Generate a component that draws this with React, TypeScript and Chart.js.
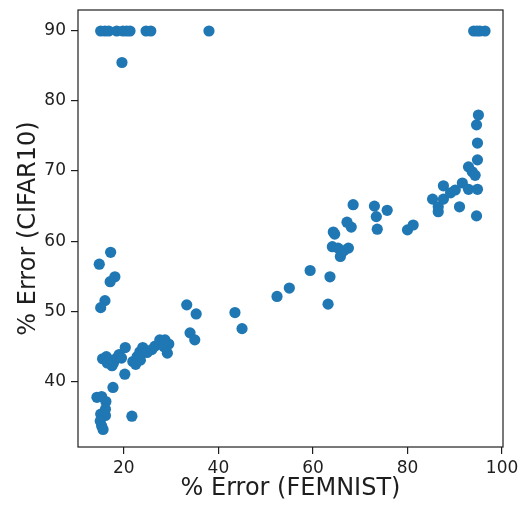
import React, { useEffect, useRef } from "react";
import { Chart, registerables } from "chart.js";

Chart.register(...registerables);

// Error rate of each configuration on FEMNIST (x) and CIFAR10 (y), in percent
const femnistError = [
  15.1, 16.0, 16.8, 18.5, 19.8, 20.6, 21.3, 24.7, 25.7, 38.0, 94.0, 94.7, 95.3, 96.4,
  19.6, 17.2, 14.8, 18.1, 17.1, 16.0, 15.1,
  15.5, 16.3, 17.0, 17.8, 18.5, 19.0, 20.3, 17.5, 16.5, 19.5, 20.2, 17.7,
  14.3, 15.3, 16.2, 16.1, 15.1, 16.1, 15.0, 15.3, 15.6, 21.7,
  21.9, 22.8, 23.4, 24.0, 24.9, 25.9, 26.6, 27.6, 28.7, 29.5, 28.5, 29.2, 22.5, 23.5,
  33.3, 35.3, 34.0, 35.0, 43.5, 45.0,
  52.4, 55.0, 59.4, 63.6, 63.2,
  64.1, 65.3, 67.5, 65.8, 64.3, 64.6, 67.2, 68.1, 68.5, 73.0, 75.7, 73.4, 73.6, 66.5,
  80.0, 81.2,
  85.3, 86.5, 86.5, 87.6, 87.6, 89.1, 90.1, 91.0, 91.6, 92.9, 92.9, 93.7, 94.3, 94.8,
  94.6, 94.8, 94.8, 94.6, 95.0,
];

const cifar10Error = [
  90, 90, 90, 90, 90, 90, 90, 90, 90, 90, 90, 90, 90, 90,
  85.5, 58.4, 56.7, 54.9, 54.2, 51.5, 50.5,
  43.2, 43.5, 43.0, 42.6, 43.3, 43.8, 44.8, 42.2, 42.6, 43.3, 41.0, 39.1,
  37.7, 37.8, 37.1, 36.0, 35.3, 35.1, 34.3, 33.6, 33.1, 35.0,
  42.8, 43.5, 44.2, 44.8, 44.1, 44.5, 45.0, 45.9, 45.9, 45.3, 44.9, 44.0, 42.4, 43.0,
  50.9, 49.6, 46.9, 45.9, 49.8, 47.5,
  52.1, 53.3, 55.8, 54.9, 51.0,
  59.2, 59.0, 59.0, 57.8, 61.3, 61.0, 62.7, 62.0, 65.2, 65.0, 64.4, 63.5, 61.7, 58.6,
  61.6, 62.3,
  66.0, 64.9, 64.2, 66.0, 67.9, 66.9, 67.3, 64.9, 68.3, 70.6, 67.4, 69.9, 69.4, 67.4,
  63.6, 71.6, 74.0, 76.6, 78.0,
];

const xTicks = [20, 40, 60, 80, 100];
const yTicks = [40, 50, 60, 70, 80, 90];

const xLimits = [10.3, 100.2];
const yLimits = [30.6, 93.0];

const FONT = "'DejaVu Sans', sans-serif";
const INK = "#1e1e1e";

// Closed frame around the plotting area
const framePlugin = {
  id: "frame",
  afterDatasetsDraw(chart: any) {
    const { ctx, chartArea } = chart;
    ctx.save();
    ctx.strokeStyle = INK;
    ctx.lineWidth = 1.2;
    ctx.strokeRect(
      chartArea.left,
      chartArea.top,
      chartArea.right - chartArea.left,
      chartArea.bottom - chartArea.top
    );
    ctx.restore();
  },
};

export default function App() {
  const canvasRef = useRef<HTMLCanvasElement | null>(null);

  useEffect(() => {
    const canvas = canvasRef.current;
    if (!canvas) return;
    const points = femnistError.map((x, i) => ({ x, y: cifar10Error[i] }));

    const chart = new Chart(canvas, {
      type: "scatter",
      data: {
        datasets: [
          {
            data: points,
            backgroundColor: "#1f77b4",
            borderWidth: 0,
            pointRadius: 5.6,
            pointHoverRadius: 5.6,
          },
        ],
      },
      options: {
        responsive: false,
        animation: false,
        events: [],
        layout: { padding: { top: 10, right: 17, left: 0, bottom: 0 } },
        plugins: {
          legend: { display: false },
          tooltip: { enabled: false },
        },
        scales: {
          x: {
            type: "linear",
            min: xLimits[0],
            max: xLimits[1],
            afterBuildTicks: (scale: any) => {
              scale.ticks = xTicks.map((v) => ({ value: v }));
            },
            afterFit: (scale: any) => {
              scale.height = 60;
              scale.paddingLeft = 0;
              scale.paddingRight = 0;
            },
            grid: {
              drawOnChartArea: false,
              drawTicks: true,
              tickLength: 7,
              color: INK,
              lineWidth: 1.2,
            },
            border: { display: false },
            ticks: {
              color: INK,
              padding: 4,
              maxRotation: 0,
              font: { family: FONT, size: 17 },
            },
            title: {
              display: true,
              text: "% Error (FEMNIST)",
              color: INK,
              font: { family: FONT, size: 24 },
              padding: { top: 0, bottom: 4 },
            },
          },
          y: {
            type: "linear",
            min: yLimits[0],
            max: yLimits[1],
            afterBuildTicks: (scale: any) => {
              scale.ticks = yTicks.map((v) => ({ value: v }));
            },
            afterFit: (scale: any) => {
              scale.width = 78;
              scale.paddingTop = 0;
              scale.paddingBottom = 0;
            },
            grid: {
              drawOnChartArea: false,
              drawTicks: true,
              tickLength: 7,
              color: INK,
              lineWidth: 1.2,
            },
            border: { display: false },
            ticks: {
              color: INK,
              padding: 5,
              font: { family: FONT, size: 17 },
            },
            title: {
              display: true,
              text: "% Error (CIFAR10)",
              color: INK,
              font: { family: FONT, size: 24 },
              padding: { top: 14, bottom: 0 },
            },
          },
        },
      },
      plugins: [framePlugin],
    });

    return () => chart.destroy();
  }, []);

  return (
    <div
      style={{
        position: "fixed",
        left: 0,
        top: 0,
        width: 520,
        height: 507,
        background: "#ffffff",
      }}
    >
      <canvas ref={canvasRef} width={520} height={507} />
    </div>
  );
}
